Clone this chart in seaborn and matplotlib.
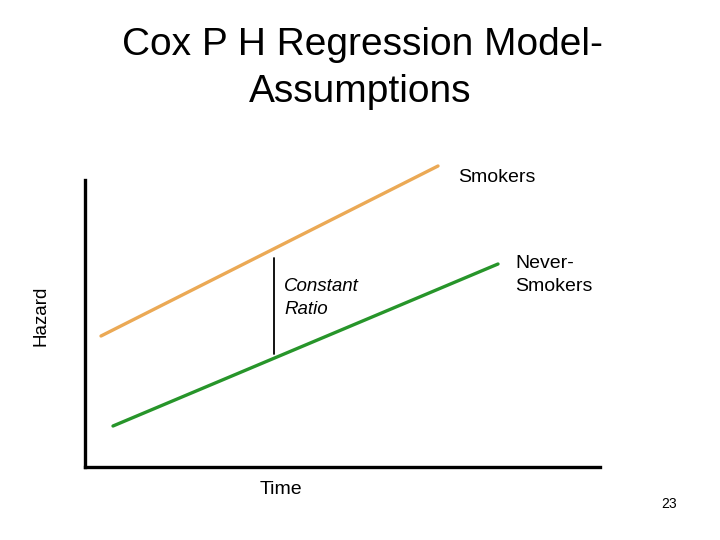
import matplotlib
matplotlib.use("Agg")
import matplotlib.pyplot as plt
import seaborn as sns

sns.set_theme(style="white")
plt.rcParams['font.family'] = ['Liberation Sans', 'DejaVu Sans']
plt.rcParams['text.color'] = 'black'

# conceptual hazard lines (time, hazard) in arbitrary units
time_smk = [101, 438]
haz_smk = [204, 374]
time_never = [113, 498]
haz_never = [114, 276]
ratio_x = [274, 274]
ratio_y = [186, 282]

W, H = 720, 540
fig = plt.figure(figsize=(7.2, 5.4), dpi=100)
fig.patch.set_facecolor('white')
ax = fig.add_axes([85 / W, 73 / H, 515 / W, 287 / H])

sns.lineplot(x=time_smk, y=haz_smk, ax=ax, color='#EBA955', linewidth=2.4, clip_on=False)
sns.lineplot(x=time_never, y=haz_never, ax=ax, color='#27952A', linewidth=2.4, clip_on=False)
ax.plot(ratio_x, ratio_y, color='black', linewidth=1.3)

ax.set_xlim(85, 600)
ax.set_ylim(73, 360)
ax.set_xticks([]); ax.set_yticks([])
for s in ['top', 'right']:
    ax.spines[s].set_visible(False)
for s in ['left', 'bottom']:
    ax.spines[s].set_color('black')
    ax.spines[s].set_linewidth(2.4)

ax.text(458, 362, 'Smokers', fontsize=14, ha='left', va='center', clip_on=False)
ax.text(515, 265, 'Never-\nSmokers', fontsize=14, ha='left', va='center',
        linespacing=1.4, clip_on=False)
ax.text(284, 242, 'Constant\nRatio', fontsize=13.5, style='italic', ha='left',
        va='center', linespacing=1.4)

fig.text(362 / W, 1 - 45 / H, 'Cox P H Regression Model-', fontsize=28, ha='center', va='center')
fig.text(360 / W, 1 - 92 / H, 'Assumptions', fontsize=28, ha='center', va='center')
fig.text(41 / W, 1 - 316 / H, 'Hazard', fontsize=13.5, rotation=90, ha='center', va='center')
fig.text(281 / W, 1 - 490 / H, 'Time', fontsize=14, ha='center', va='center')
fig.text(669 / W, 1 - 504 / H, '23', fontsize=10, ha='center', va='center')

fig.savefig('out.png', dpi=100, facecolor='white')
